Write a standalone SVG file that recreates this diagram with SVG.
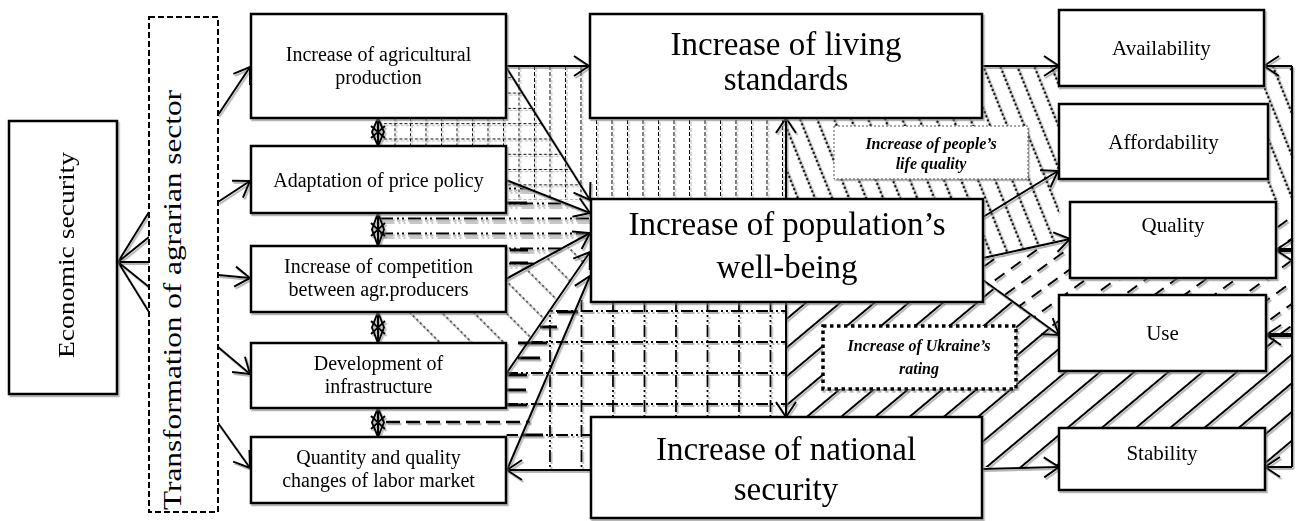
<svg xmlns="http://www.w3.org/2000/svg" width="1298" height="521" viewBox="0 0 1298 521">
<style>
.box{fill:#fff;stroke:#000;stroke-width:2.5}
.t{font-family:"Liberation Serif","Times New Roman",serif;fill:#000;text-anchor:middle}
.s20{font-size:20px}
.s33{font-size:33px}
.s21{font-size:21px}
.bi{font-size:16px;font-weight:bold;font-style:italic}
.c{stroke:#000;stroke-width:2;fill:none}
.a{marker-end:url(#ah)}
.tk{stroke-width:4}
</style>
<defs>
<filter id="sh" x="-5%" y="-5%" width="115%" height="115%"><feDropShadow dx="1.5" dy="2" stdDeviation="0.7" flood-color="#777" flood-opacity="0.55"/></filter>
<marker id="ah" markerUnits="userSpaceOnUse" markerWidth="18" markerHeight="22" refX="15" refY="10" orient="auto" overflow="visible"><path d="M0,0 L15,10 L0,20" fill="none" stroke="#000" stroke-width="2"/></marker>
<pattern id="pA" patternUnits="userSpaceOnUse" x="503" y="62" width="15.5" height="15.3"><path d="M0.5,0V15.3M0,0.5H15.5" stroke="#000" stroke-width="1" stroke-dasharray="3 2" fill="none"/></pattern>
<pattern id="pB" patternUnits="userSpaceOnUse" x="503" y="0" width="15.5" height="6"><path d="M0.5,0V6" stroke="#000" stroke-width="1" stroke-dasharray="4 2"/></pattern>
<pattern id="pC" patternUnits="userSpaceOnUse" x="380" y="202" width="28" height="15"><path d="M0,4H28" stroke="#bbb" stroke-width="1.6" stroke-dasharray="13 4 2 3 2 4"/><path d="M0,1.5H28" stroke="#000" stroke-width="2" stroke-dasharray="13 4 2 3 2 4"/></pattern>
<pattern id="pD" patternUnits="userSpaceOnUse" width="22.6" height="5" patternTransform="rotate(-45)"><path d="M1,0V5" stroke="#000" stroke-width="1.3" stroke-dasharray="2.5 2.5"/></pattern>
<pattern id="pG" patternUnits="userSpaceOnUse" width="15.8" height="4.4" patternTransform="rotate(-22)"><circle cx="2" cy="2.2" r="1.3" fill="#000"/></pattern>
<pattern id="pH" patternUnits="userSpaceOnUse" width="20" height="17.6" patternTransform="rotate(-36)"><path d="M0,2H12" stroke="#000" stroke-width="2"/></pattern>
<pattern id="pI" patternUnits="userSpaceOnUse" width="10" height="22" patternTransform="rotate(-40)"><path d="M0,2H10" stroke="#000" stroke-width="2"/></pattern>
<clipPath id="cF"><polygon points="589,252 589,300 786,300 786,417 591,417 591,470 507,470 506,374"/></clipPath>
</defs>
<rect width="1298" height="521" fill="#fff"/>

<g id="hatching" filter="url(#sh)">
<polygon fill="url(#pB)" points="506,66 590,66 590,118 786,118 786,199 589,199"/>
<polygon fill="url(#pA)" points="380,118 506,118 506,68 590,200 506,200 506,146 380,146"/>
<polygon fill="url(#pC)" points="380,213 506,213 506,182 589,212 589,235 506,278 506,246 380,246"/>
<polygon fill="url(#pD)" points="395,312 506,312 506,280 589,236 589,252 527,343 410,343"/>
<g clip-path="url(#cF)" fill="none" stroke="#000" stroke-width="1.8" stroke-dasharray="12 3 2 3 2 3">
<path d="M550,300V470M581.5,300V470M613,300V423M644.5,300V423M676,300V423M707.5,300V423M739,300V423M770.5,300V423"/>
<path d="M506,311H786M506,342H786M506,373H786M506,404H786M506,435H591"/>
</g>
<polygon fill="url(#pG)" points="786,118 982,118 982,66 1059,66 1059,240 983,258 983,199 786,199"/>
<polygon fill="url(#pG)" points="1264,66 1292,66 1292,202 1264,202"/>
<polygon fill="url(#pH)" points="983,258 1070,240 1070,278 1276,278 1276,202 1292,202 1292,340 1266,340 1266,295 1059,295 1059,335 983,282"/>
<polygon fill="url(#pI)" points="786,302 983,302 983,282 1059,335 1059,371 1266,371 1266,340 1292,340 1292,467 1265,467 1265,428 1059,428 1059,467 982,467 982,417 786,417"/>
<path d="M507,203H527M510,250H528M510,263H528M557,312H578M540,327H557M518,343H547M518,358H540M507,375H527M507,390H526M507,405H527M522,435H543" stroke="#000" stroke-width="3"/>
<path d="M386,422H530" stroke="#000" stroke-width="2.5" stroke-dasharray="14 6"/>
</g>

<g id="connectors" filter="url(#sh)">
<path class="c" d="M149,212L118,262M149,237L118,262M149,262L118,262M149,287L118,262M149,312L118,262"/>
<path class="c a" d="M218,115L250,67"/>
<path class="c a" d="M218,202L250,181"/>
<path class="c a" d="M218,275L250,278"/>
<path class="c a" d="M218,347L250,374"/>
<path class="c a" d="M218,423L250,468"/>
<path class="c" d="M378,118V146M378,118L384,132L378,146L372,132ZM371,126L385,138M371,138L385,126"/>
<path class="c" d="M378,213V246M378,213L384,229.5L378,246L372,229.5ZM371,223L385,236M371,236L385,223"/>
<path class="c" d="M378,312V343M378,312L384,327.5L378,343L372,327.5ZM371,321L385,334M371,334L385,321"/>
<path class="c" d="M378,408V437M378,408L384,422.5L378,437L372,422.5ZM371,416L385,429M371,429L385,416"/>
<path class="c a" d="M506,66H589"/>
<path class="c a" d="M506,67L590,200"/>
<path class="c a" d="M506,180L590,213"/>
<path class="c a" d="M506,279L590,233"/>
<path class="c a" d="M506,374L590,252"/>
<path class="c a" d="M507,470L590,276"/>
<path class="c a" d="M591,470H507"/>
<path class="c a" d="M786,199V118"/>
<path class="c a" d="M786,302V417"/>
<path class="c a" d="M982,66H1059"/>
<path class="c a" d="M983,217L1058,171"/>
<path class="c a" d="M983,258L1070,239"/>
<path class="c a" d="M983,280L1059,335"/>
<path class="c a" d="M982,469L1059,467"/>
<path class="c" d="M1292,66V467"/>
<path class="c a" d="M1292,66H1264"/>
<path class="c tk a" d="M1292,250H1276"/>
<path class="c tk a" d="M1292,335H1266"/>
<path class="c a" d="M1292,467H1265"/>
</g>

<g id="economic-security" filter="url(#sh)"><rect class="box" x="9" y="121" width="108" height="273"/><text class="t" font-size="24" transform="translate(74,255) rotate(-90)" textLength="206" lengthAdjust="spacingAndGlyphs">Economic security</text></g>
<g id="transformation"><rect x="149" y="17" width="69" height="495" fill="#fff" stroke="#000" stroke-width="2" stroke-dasharray="6 3"/><text class="t" font-size="26" transform="translate(181,300) rotate(-90)" textLength="420" lengthAdjust="spacingAndGlyphs">Transformation of agrarian sector</text></g>

<g id="agri-production" filter="url(#sh)"><rect class="box" x="251" y="14" width="255" height="104"/><text class="t s20" x="378.5" y="61">Increase of agricultural</text><text class="t s20" x="378.5" y="84">production</text></g>
<g id="price-policy" filter="url(#sh)"><rect class="box" x="251" y="146" width="255" height="67"/><text class="t s20" x="378.5" y="187">Adaptation of price policy</text></g>
<g id="competition" filter="url(#sh)"><rect class="box" x="251" y="246" width="255" height="66"/><text class="t s20" x="378.5" y="273">Increase of competition</text><text class="t s20" x="378.5" y="296">between agr.producers</text></g>
<g id="infrastructure" filter="url(#sh)"><rect class="box" x="251" y="343" width="255" height="65"/><text class="t s20" x="378.5" y="370">Development of</text><text class="t s20" x="378.5" y="393">infrastructure</text></g>
<g id="labor-market" filter="url(#sh)"><rect class="box" x="251" y="437" width="255" height="66"/><text class="t s20" x="378.5" y="464">Quantity and quality</text><text class="t s20" x="378.5" y="487">changes of labor market</text></g>

<g id="living-standards" filter="url(#sh)"><rect class="box" x="590" y="14" width="392" height="104"/><text class="t s33" x="786" y="55">Increase of living</text><text class="t s33" x="786" y="90">standards</text></g>
<g id="well-being" filter="url(#sh)"><rect class="box" x="591" y="199" width="392" height="103"/><text class="t s33" x="787" y="235">Increase of population’s</text><text class="t s33" x="787" y="278">well-being</text></g>
<g id="national-security" filter="url(#sh)"><rect class="box" x="591" y="417" width="391" height="101"/><text class="t s33" x="786" y="460">Increase of national</text><text class="t s33" x="786" y="500">security</text></g>

<g id="life-quality" filter="url(#sh)"><rect x="834" y="126" width="194" height="53" fill="#fff" stroke="#555" stroke-width="1" stroke-dasharray="2 2"/><text class="t bi" x="931" y="149">Increase of people’s</text><text class="t bi" x="931" y="169">life quality</text></g>
<g id="ukraine-rating" filter="url(#sh)"><rect x="823" y="326" width="193" height="63" fill="#fff" stroke="#000" stroke-width="3.5" stroke-dasharray="3.5 3.5"/><text class="t bi" x="919" y="351">Increase of Ukraine’s</text><text class="t bi" x="919" y="374">rating</text></g>

<g id="availability" filter="url(#sh)"><rect class="box" x="1059" y="10" width="205" height="76"/><text class="t s21" x="1161.5" y="55">Availability</text></g>
<g id="affordability" filter="url(#sh)"><rect class="box" x="1059" y="104" width="209" height="75"/><text class="t s21" x="1163.5" y="149">Affordability</text></g>
<g id="quality" filter="url(#sh)"><rect class="box" x="1070" y="202" width="206" height="76"/><text class="t s21" x="1173" y="232">Quality</text></g>
<g id="use" filter="url(#sh)"><rect class="box" x="1059" y="295" width="207" height="76"/><text class="t s21" x="1162.5" y="340">Use</text></g>
<g id="stability" filter="url(#sh)"><rect class="box" x="1059" y="428" width="206" height="62"/><text class="t s21" x="1162" y="460">Stability</text></g>
</svg>
